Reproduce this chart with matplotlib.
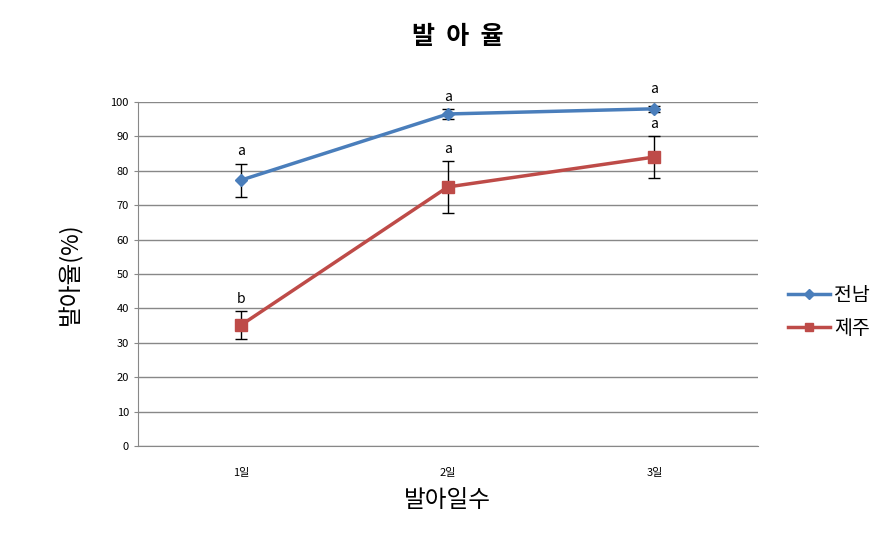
import matplotlib
matplotlib.use('Agg')
from matplotlib import pyplot as plt
import numpy as np

plt.rcParams['font.family'] = ['Noto Sans CJK KR', 'DejaVu Sans']

# data
days = ['1일', '2일', '3일']
jeonnam = [77.3, 96.5, 98.0]
jeonnam_err = [4.8, 1.5, 0.8]
jeju = [35.2, 75.3, 84.0]
jeju_err = [4.0, 7.6, 6.0]
jeonnam_letters = ['a', 'a', 'a']
jeju_letters = ['b', 'a', 'a']

blue = '#4A7EBB'
red = '#BE4B48'

fig = plt.figure(figsize=(8.76, 5.48), dpi=100)
ax = fig.add_axes([0.1575, 0.186, 0.7075, 0.628])

x = np.arange(len(days))
ax.errorbar(x, jeonnam, yerr=jeonnam_err, fmt='none', ecolor='black',
            elinewidth=1, capsize=4, zorder=2)
ax.errorbar(x, jeju, yerr=jeju_err, fmt='none', ecolor='black',
            elinewidth=1, capsize=4, zorder=2)
ax.plot(x, jeonnam, color=blue, lw=2.5, marker='D', ms=6, label='전남', zorder=3)
ax.plot(x, jeju, color=red, lw=2.5, marker='s', ms=8, label='제주', zorder=3)

for i in range(len(days)):
    off_b = 5 if jeonnam_err[i] < 1 else 3.5
    ax.text(x[i], jeonnam[i] + jeonnam_err[i] + off_b, jeonnam_letters[i],
            ha='center', va='center', fontsize=10)
    ax.text(x[i], jeju[i] + jeju_err[i] + 3.5, jeju_letters[i],
            ha='center', va='center', fontsize=10)

ax.set_xlim(-0.5, 2.5)
ax.set_ylim(0, 100)
ax.set_yticks(np.arange(0, 101, 10))
ax.set_xticks(x)
ax.set_xticklabels(days)
ax.tick_params(axis='both', labelsize=8, length=3, color='#888888')
ax.tick_params(axis='x', length=0, pad=16)
ax.grid(axis='y', color='#888888', lw=1)
ax.set_axisbelow(True)
for s in ['top', 'right']:
    ax.spines[s].set_visible(False)
for s in ['left', 'bottom']:
    ax.spines[s].set_color('#888888')

ax.set_ylabel('발아율(%)', fontsize=17, labelpad=20)
ax.set_xlabel('발아일수', fontsize=17, labelpad=8)
fig.suptitle('발  아  율', fontsize=18, fontweight='bold', x=0.522, y=0.955)

ax.legend(loc='center left', bbox_to_anchor=(1.02, 0.39), frameon=False,
          fontsize=14, handlelength=2.2, labelspacing=0.6, handletextpad=0.2,
          markerscale=0.8)

fig.savefig('out.png', dpi=100)
